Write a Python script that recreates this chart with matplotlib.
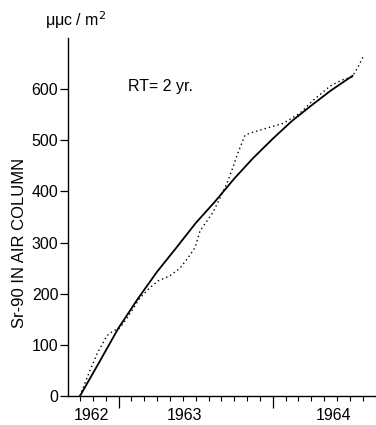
import matplotlib
matplotlib.use('Agg')
import matplotlib.pyplot as plt
import matplotlib.transforms as mtransforms

plt.rcParams['font.family'] = ['Liberation Sans', 'DejaVu Sans']

# months counted from the start of the record (small ticks = months)
solid_x = [0, 1.5, 3, 4.5, 6, 7.5, 9, 10.5, 12, 13.5, 15, 16.5, 18, 19.5, 21.2]
solid_y = [0, 66, 133, 190, 243, 290, 338, 380, 425, 466, 503, 538, 568, 597, 626]

dot_x = [0, 0.23, 0.78, 1.32, 2.1, 2.57, 3.11, 3.89, 4.67, 5.45, 6.07, 7.0, 7.78,
         8.4, 8.95, 9.34, 10.35, 10.89, 11.44, 11.9, 12.3, 12.84, 13.23, 14.55,
         15.8, 17.12, 18.13, 19.46, 20.39, 21.17, 21.63, 22.02]
dot_y = [0, 15, 50, 82, 118, 127, 133, 161, 192, 212, 225, 235, 250,
         270, 290, 323, 359, 387, 416, 447, 476, 510, 514, 524,
         533, 553, 578, 606, 618, 624, 643, 663]

year_labels = ['1962', '1963', '1964']
year_pos = [0.86, 8.1, 19.7]
long_ticks = [3, 15]
month_ticks = list(range(0, 24))
y_ticks = [0, 100, 200, 300, 400, 500, 600]

fs = 11.5

fig = plt.figure(figsize=(3.76, 4.25), dpi=100)
ax = fig.add_axes([68/376, 29/425, 308/376, 358/425])

ax.plot(solid_x, solid_y, color='black', lw=1.3)
ax.plot(dot_x, dot_y, color='black', lw=1.0, linestyle=(0, (1, 2.2)))

ax.set_xlim(-0.93, 23.03)
ax.set_ylim(0, 700)

for s in ['top', 'right']:
    ax.spines[s].set_visible(False)
for s in ['left', 'bottom']:
    ax.spines[s].set_linewidth(1.0)

ax.set_yticks(y_ticks)
ax.set_yticklabels([str(v) for v in y_ticks], fontsize=fs)
ax.tick_params(axis='y', direction='out', length=6, width=0.9, pad=1)

ax.set_xticks(long_ticks)
ax.set_xticklabels([])
ax.set_xticks(month_ticks, minor=True)
ax.tick_params(axis='x', which='major', direction='out', length=8.5, width=0.9)
ax.tick_params(axis='x', which='minor', direction='out', length=3.5, width=0.8)

trans = mtransforms.blended_transform_factory(ax.transData, fig.transFigure)
for lab, p in zip(year_labels, year_pos):
    ax.text(p, 1 - 415/425, lab, transform=trans, ha='center', va='center', fontsize=fs)

fig.text(20/376, 1 - 243/425, 'Sr-90 IN AIR COLUMN', rotation=90,
         ha='center', va='center', fontsize=12)
fig.text(76/376, 1 - 20/425, 'μμc / m$^2$', ha='center', va='center', fontsize=fs)
fig.text(128/376, 1 - 86/425, 'RT= 2 yr.', ha='left', va='center', fontsize=fs)

fig.savefig('out.png', dpi=100)
